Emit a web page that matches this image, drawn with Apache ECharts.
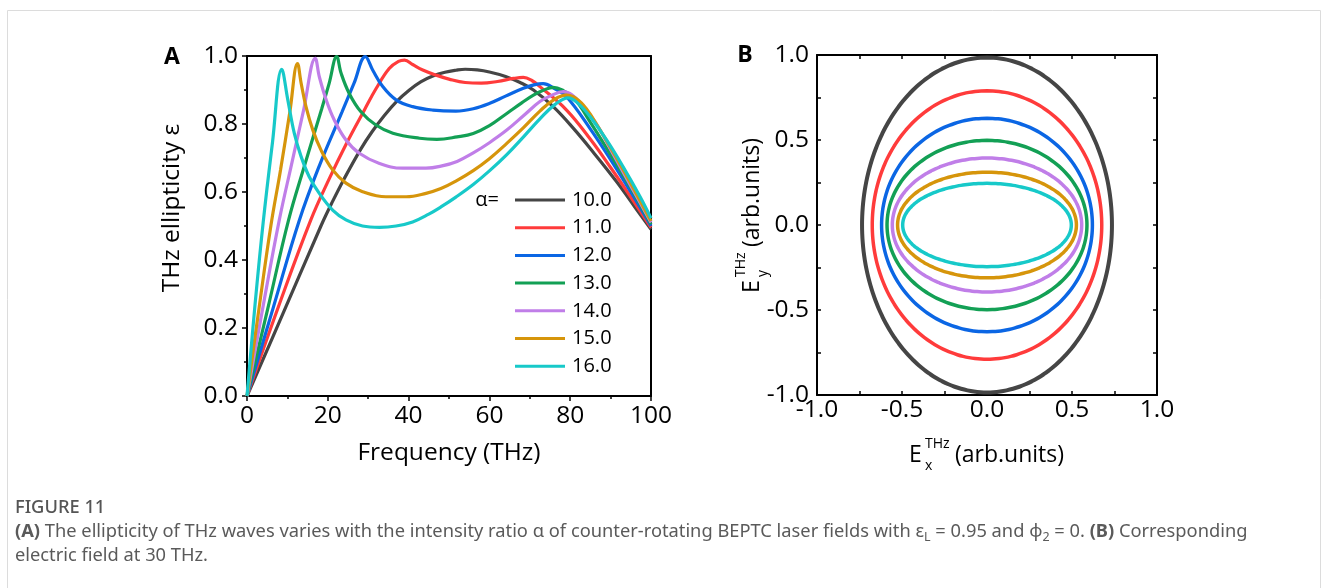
<!DOCTYPE html>
<html>
<head>
<meta charset="utf-8">
<script src="https://cdn.jsdelivr.net/npm/echarts@6/dist/echarts.min.js"></script>
<style>
html,body{margin:0;padding:0;background:#fff;}
#chart{width:1328px;height:588px;}
</style>
</head>
<body>
<div id="chart"></div>
<script>
// ---- Panel A data: [frequency (THz), ellipticity] ----
const alpha10 = [[0,0],[9,0.245],[18.3,0.5],[21,0.568],[24.1,0.64],[28.2,0.727],[31,0.778],[34,0.825],[37,0.866],[40.2,0.9],[43,0.924],[46,0.941],[49,0.952],[51.7,0.958],[54,0.961],[57,0.959],[60,0.953],[64,0.94],[67.6,0.922],[70.9,0.9],[75.8,0.851],[80.8,0.787],[85.7,0.717],[91.5,0.63],[96,0.556],[100,0.49]];
const alpha11 = [[0,0],[8,0.27],[15.8,0.518],[20.4,0.64],[24.5,0.74],[29,0.84],[32,0.905],[35.2,0.963],[37.5,0.984],[39,0.988],[41,0.975],[43.5,0.959],[47,0.943],[50,0.932],[54,0.922],[58,0.92],[62,0.925],[66,0.934],[68.4,0.937],[70.5,0.928],[72.5,0.91],[79.1,0.841],[85,0.755],[90,0.672],[95,0.585],[100,0.495]];
const alpha12 = [[0,0],[6.5,0.26],[12.9,0.515],[18,0.68],[23.5,0.835],[26.5,0.92],[29.3,0.998],[31.1,0.959],[33.6,0.91],[36.9,0.871],[41,0.851],[46,0.841],[51.7,0.838],[56,0.845],[60.1,0.861],[64,0.882],[68.4,0.905],[71,0.915],[73.3,0.919],[76,0.905],[79.1,0.88],[85,0.785],[90,0.695],[95,0.6],[100,0.5]];
const alpha13 = [[0,0],[5.2,0.26],[10.3,0.518],[14.3,0.68],[18.5,0.845],[20.3,0.918],[22.2,0.998],[23.3,0.949],[25.3,0.89],[28.2,0.836],[31.9,0.797],[36.1,0.773],[42.7,0.758],[47,0.755],[52,0.762],[56,0.772],[60,0.795],[64.3,0.831],[68,0.862],[70.9,0.885],[73.5,0.9],[75.8,0.908],[78,0.9],[81,0.875],[85,0.805],[90,0.71],[95,0.612],[100,0.505]];
const alpha14 = [[0,0],[4,0.265],[8,0.518],[11,0.68],[14,0.84],[16.9,0.993],[17.9,0.939],[19.6,0.871],[21.6,0.812],[24.5,0.753],[27.8,0.714],[32.8,0.684],[38.5,0.67],[44.3,0.67],[48,0.676],[52,0.69],[56,0.715],[60,0.745],[64.3,0.782],[68.5,0.825],[72.5,0.866],[75.5,0.885],[78.3,0.895],[80.5,0.885],[83,0.855],[86.5,0.8],[90,0.725],[95,0.618],[100,0.51]];
const alpha15 = [[0,0],[3,0.26],[5.9,0.5],[8.3,0.665],[10.6,0.835],[12.5,0.978],[13.4,0.92],[14.6,0.851],[16.3,0.782],[18.3,0.724],[21.2,0.665],[24.5,0.626],[28.6,0.601],[34.4,0.586],[39.4,0.586],[44.3,0.596],[48,0.61],[51.7,0.632],[56,0.663],[60,0.698],[64.3,0.743],[68.5,0.79],[72.5,0.838],[76,0.872],[79.1,0.885],[81.5,0.875],[84,0.845],[87,0.79],[91,0.71],[95,0.625],[100,0.515]];
const alpha16 = [[0,0],[2,0.27],[4,0.51],[6.3,0.745],[8.6,0.961],[10.1,0.871],[11.7,0.773],[13.4,0.704],[15.4,0.645],[17.9,0.596],[21.2,0.547],[24.5,0.518],[28.6,0.5],[32.8,0.496],[36.9,0.5],[41,0.512],[45,0.535],[48,0.556],[51.7,0.585],[56,0.622],[60,0.662],[64.3,0.71],[68.5,0.763],[72.5,0.815],[76.2,0.857],[79.5,0.877],[82,0.86],[84.9,0.822],[89,0.753],[93.1,0.674],[97.3,0.586],[100,0.523]];

// ---- Series names / legend labels ----
const alphaLabels = ['10.0','11.0','12.0','13.0','14.0','15.0','16.0'];

// ---- Panel B data: field amplitudes at 30 THz ----
const exAmp = [0.735,0.675,0.62,0.588,0.557,0.526,0.496];
const eyAmp = [0.985,0.79,0.628,0.498,0.394,0.311,0.245];

// ---- Tick labels ----
const freqTicks = [0,20,40,60,80,100];
const epsTicks = [0,0.2,0.4,0.6,0.8,1.0];
const fieldTicks = [-1.0,-0.5,0.0,0.5,1.0];

const colors = ['#454545','#ff3b3b','#0b66e4','#13a055','#c07ee8','#d6950b','#17c9c9'];
const curvesA = [alpha10,alpha11,alpha12,alpha13,alpha14,alpha15,alpha16];

function ellipse(ax, ay){
  const pts = [];
  for (let k = 0; k <= 120; k++){
    const t = 2*Math.PI*k/120;
    pts.push([ax*Math.sin(t), ay*Math.cos(t)]);
  }
  return pts;
}

const FONT = 'Open Sans';
const chart = echarts.init(document.getElementById('chart'), null, {renderer:'canvas'});

const axisLineStyle = {show:true, onZero:false, lineStyle:{color:'#000', width:2}};
const labelStyle = {color:'#000', fontSize:24.5, fontFamily:FONT};

const series = [];
curvesA.forEach((d,i)=>{
  series.push({name:alphaLabels[i], type:'line', xAxisIndex:0, yAxisIndex:0, data:d,
    showSymbol:false, smooth:0.4, color:colors[i], lineStyle:{width:3.2, color:colors[i]}, z:2+i, silent:true});
});
exAmp.forEach((ax,i)=>{
  series.push({name:'B'+alphaLabels[i], type:'line', xAxisIndex:2, yAxisIndex:2, data:ellipse(ax, eyAmp[i]),
    showSymbol:false, smooth:true, color:colors[i], lineStyle:{width:i===0?4:3.5, color:colors[i]}, silent:true});
});

const tickA = {show:true, inside:false, length:5, lineStyle:{color:'#000', width:1.5}};
const minorA = {show:true, splitNumber:2, length:3, lineStyle:{color:'#000', width:1.5}};
const tickB = {show:true, inside:true, length:4, lineStyle:{color:'#000', width:1.5}};
const minorB = {show:true, splitNumber:2, length:4, lineStyle:{color:'#000', width:1.5}};

const option = {
  animation:false,
  backgroundColor:'#fff',
  grid:[
    {left:247, top:56, width:404, height:340},
    {left:817, top:55, width:340, height:340}
  ],
  xAxis:[
    {gridIndex:0, type:'value', min:freqTicks[0], max:freqTicks[freqTicks.length-1], interval:20, position:'bottom',
      axisLine:axisLineStyle, axisTick:tickA, minorTick:minorA,
      splitLine:{show:false}, axisLabel:Object.assign({margin:8, formatter:v=>String(v)}, labelStyle)},
    {gridIndex:0, type:'value', min:0, max:100, position:'top', axisLine:axisLineStyle, axisTick:{show:false}, axisLabel:{show:false}, splitLine:{show:false}},
    {gridIndex:1, type:'value', min:fieldTicks[0], max:fieldTicks[fieldTicks.length-1], interval:0.5, position:'bottom',
      axisLine:axisLineStyle, axisTick:tickB, minorTick:minorB,
      splitLine:{show:false}, axisLabel:Object.assign({margin:3, formatter:v=>v.toFixed(1)}, labelStyle)},
    {gridIndex:1, type:'value', min:-1, max:1, interval:0.5, position:'top', axisLine:axisLineStyle,
      axisTick:tickB, minorTick:minorB, axisLabel:{show:false}, splitLine:{show:false}}
  ],
  yAxis:[
    {gridIndex:0, type:'value', min:epsTicks[0], max:epsTicks[epsTicks.length-1], interval:0.2, position:'left',
      axisLine:axisLineStyle, axisTick:tickA, minorTick:minorA,
      splitLine:{show:false}, axisLabel:Object.assign({margin:9, formatter:v=>v.toFixed(1)}, labelStyle)},
    {gridIndex:0, type:'value', min:0, max:1, position:'right', axisLine:axisLineStyle, axisTick:{show:false}, axisLabel:{show:false}, splitLine:{show:false}},
    {gridIndex:1, type:'value', min:fieldTicks[0], max:fieldTicks[fieldTicks.length-1], interval:0.5, position:'left',
      axisLine:axisLineStyle, axisTick:tickB, minorTick:minorB,
      splitLine:{show:false}, axisLabel:Object.assign({margin:8, formatter:v=>v.toFixed(1)}, labelStyle)},
    {gridIndex:1, type:'value', min:-1, max:1, interval:0.5, position:'right', axisLine:axisLineStyle,
      axisTick:tickB, minorTick:minorB, axisLabel:{show:false}, splitLine:{show:false}}
  ],
  legend:{
    data:alphaLabels, orient:'vertical', left:510, top:185, itemWidth:50, itemHeight:3, icon:'rect',
    itemGap:7.7, selectedMode:false,
    textStyle:{fontSize:20, lineHeight:20, color:'#000', fontFamily:FONT, padding:[0,0,0,2]}
  },
  series:series,
  graphic:[
    {type:'rect', shape:{x:7.5, y:10.5, width:1313, height:600}, style:{fill:null, stroke:'#dcdcdc', lineWidth:1}, silent:true, z:-10},
    {type:'text', x:172, y:57, style:{text:'A', font:'bold 23px "'+FONT+'"', fill:'#000', align:'center', verticalAlign:'middle'}},
    {type:'text', x:745, y:55, style:{text:'B', font:'bold 23px "'+FONT+'"', fill:'#000', align:'center', verticalAlign:'middle'}},
    {type:'text', x:487, y:200, style:{text:'α=', font:'20px "'+FONT+'"', fill:'#000', align:'center', verticalAlign:'middle'}},
    {type:'text', x:449, y:453, style:{text:'Frequency (THz)', font:'24.5px "'+FONT+'"', fill:'#000', align:'center', verticalAlign:'middle'}},
    {type:'text', x:172, y:208, rotation:Math.PI/2, style:{text:'THz ellipticity ε', font:'24.5px "'+FONT+'"', fill:'#000', align:'center', verticalAlign:'middle'}},
    {type:'group', x:986, y:455, children:[
      {type:'text', x:-77, y:0, style:{text:'E', font:'23px "'+FONT+'"', fill:'#000', align:'left', verticalAlign:'middle'}},
      {type:'text', x:-61, y:-11, style:{text:'THz', font:'14px "'+FONT+'"', fill:'#000', align:'left', verticalAlign:'middle'}},
      {type:'text', x:-61, y:11, style:{text:'x', font:'14px "'+FONT+'"', fill:'#000', align:'left', verticalAlign:'middle'}},
      {type:'text', x:-31, y:0, style:{text:'(arb.units)', font:'23px "'+FONT+'"', fill:'#000', align:'left', verticalAlign:'middle'}}
    ]},
    {type:'group', x:752, y:216, rotation:Math.PI/2, children:[
      {type:'text', x:-77, y:0, style:{text:'E', font:'23px "'+FONT+'"', fill:'#000', align:'left', verticalAlign:'middle'}},
      {type:'text', x:-61, y:-11, style:{text:'THz', font:'14px "'+FONT+'"', fill:'#000', align:'left', verticalAlign:'middle'}},
      {type:'text', x:-61, y:11, style:{text:'y', font:'14px "'+FONT+'"', fill:'#000', align:'left', verticalAlign:'middle'}},
      {type:'text', x:-31, y:0, style:{text:'(arb.units)', font:'23px "'+FONT+'"', fill:'#000', align:'left', verticalAlign:'middle'}}
    ]},
    {type:'text', x:15, y:508, style:{text:'FIGURE 11', font:'500 18.3px "Noto Sans"', fill:'#555', align:'left', verticalAlign:'middle'}},
    {type:'text', x:15, y:532, style:{
      text:'{b|(A)} The ellipticity of THz waves varies with the intensity ratio α of counter-rotating BEPTC laser fields with ε{s|L} = 0.95 and φ{s|2} = 0. {b|(B)} Corresponding',
      font:'18.3px "Noto Sans"', fill:'#5a5a5a', align:'left', verticalAlign:'middle',
      rich:{b:{fontWeight:'bold', fontSize:18.3, fontFamily:'Noto Sans', fill:'#5a5a5a', lineHeight:24},
            s:{fontSize:12.5, fontFamily:'Noto Sans', fill:'#5a5a5a', verticalAlign:'bottom', lineHeight:24}}
    }},
    {type:'text', x:15, y:556, style:{text:'electric field at 30 THz.', font:'18.3px "Noto Sans"', fill:'#5a5a5a', align:'left', verticalAlign:'middle'}}
  ]
};
chart.setOption(option);
</script>
</body>
</html>
